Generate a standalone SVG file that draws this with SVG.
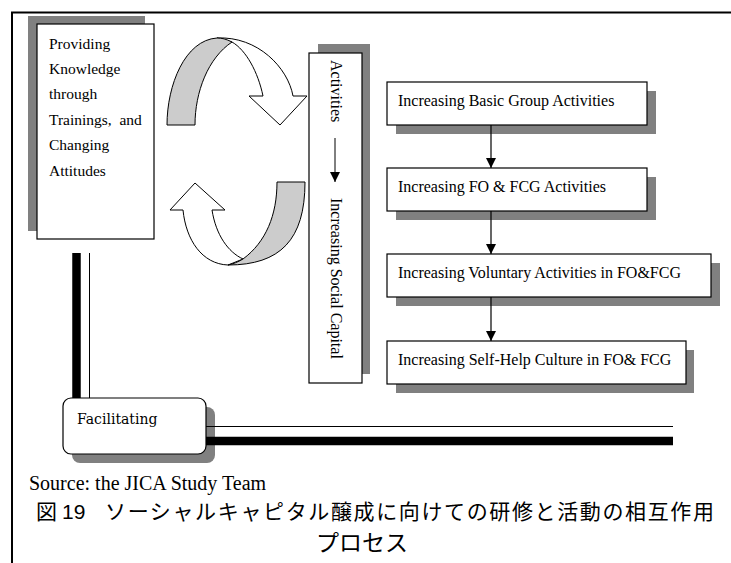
<svg xmlns="http://www.w3.org/2000/svg" width="731" height="563" viewBox="0 0 731 563">
<defs>
<style>
.t{font-family:"Liberation Serif","Times New Roman",serif;font-size:16px;fill:#000}
.lt{font-family:"Liberation Serif","Times New Roman",serif;font-size:15.5px;fill:#000}
.box{fill:#fff;stroke:#000;stroke-width:1.2}
.sh{fill:#808080}
.band{fill:#fff;stroke:#000;stroke-width:1}
.gray{fill:#cccccc;stroke:#000;stroke-width:1}
.cj{font-family:"Noto Sans CJK JP","Noto Sans CJK SC",sans-serif;font-size:21px;font-weight:400;fill:#000}
</style>
<marker id="ah" markerWidth="10" markerHeight="10" viewBox="0 0 10 10" refX="10" refY="5" orient="auto" markerUnits="userSpaceOnUse">
<path d="M0,0 L10,5 L0,10 Z" fill="#000"/>
</marker>
</defs>
<rect width="731" height="563" fill="#fff"/>
<g id="frame">
<line x1="11" y1="12.5" x2="731" y2="12.5" stroke="#000" stroke-width="2"/>
<line x1="12" y1="12" x2="12" y2="563" stroke="#000" stroke-width="2"/>
</g>
<g id="knowledge">
<rect class="sh" x="28" y="16" width="117" height="215"/>
<rect class="box" x="37" y="24" width="117" height="215"/>
<text class="lt" x="49" y="49">Providing</text>
<text class="lt" x="49" y="74">Knowledge</text>
<text class="lt" x="49" y="99">through</text>
<text class="lt" x="49" y="125" xml:space="preserve">Trainings,  and</text>
<text class="lt" x="49" y="150">Changing</text>
<text class="lt" x="49" y="176">Attitudes</text>
</g>
<g id="cycle-top">
<path class="band" d="M217,38 C258,36 288,68 293,96 L307,96 L280,125 L249,96 L263,96 C258,72 246,50 232,42 Z"/>
<path class="gray" d="M167,125 L195,125 C195,92 208,58 232,42 C226,39 222,38 217,38 C185,40 167,85 167,125 Z"/>
</g>
<g id="cycle-bottom">
<path class="band" d="M228,265 C202,264 186,240 183,210 L170,210 L195,183 L225,210 L212,210 C216,235 228,252 243,259 Z"/>
<path class="gray" d="M277,182 L305,182 C305,240 280,265 228,265 C233,264 238,262 243,259 C266,242 277,215 277,182 Z"/>
</g>
<g id="social-capital">
<rect class="sh" x="318" y="44" width="52" height="330"/>
<rect class="box" x="309" y="53" width="53" height="330"/>
<text class="t" transform="translate(330.5,60) rotate(90)">Activities</text>
<line x1="335" y1="138" x2="335" y2="182" stroke="#000" stroke-width="1" marker-end="url(#ah)"/>
<text class="t" transform="translate(330.5,198) rotate(90)">Increasing Social Capital</text>
</g>
<g id="basic">
<rect class="sh" x="396" y="91" width="260" height="43"/>
<rect class="box" x="387" y="82" width="260" height="43"/>
<text class="t" x="398" y="106">Increasing Basic Group Activities</text>
</g>
<g id="fo-fcg">
<rect class="sh" x="396" y="177" width="260" height="43"/>
<rect class="box" x="387" y="168" width="260" height="43"/>
<text class="t" x="398" y="192">Increasing FO &amp; FCG Activities</text>
</g>
<g id="voluntary">
<rect class="sh" x="396" y="263" width="324" height="43"/>
<rect class="box" x="387" y="254" width="324" height="43"/>
<text class="t" x="398" y="278">Increasing Voluntary Activities in FO&amp;FCG</text>
</g>
<g id="self-help">
<rect class="sh" x="396" y="350" width="298" height="43"/>
<rect class="box" x="387" y="341" width="299" height="43"/>
<text class="t" x="398" y="365">Increasing Self-Help Culture in FO&amp; FCG</text>
</g>
<g id="facilitating">
<rect class="sh" x="72" y="407" width="143" height="56" rx="8"/>
<rect class="box" x="63" y="398" width="143" height="56" rx="8"/>
<text x="77" y="424" style="font-family:'DejaVu Serif',serif;font-size:14px">Facilitating</text>
</g>
<g id="connectors">
<line x1="491" y1="125" x2="491" y2="168" stroke="#000" stroke-width="1.2" marker-end="url(#ah)"/>
<line x1="491" y1="211" x2="491" y2="254" stroke="#000" stroke-width="1.2" marker-end="url(#ah)"/>
<line x1="491" y1="297" x2="491" y2="341" stroke="#000" stroke-width="1.2" marker-end="url(#ah)"/>
<line x1="76.5" y1="253" x2="76.5" y2="398" stroke="#000" stroke-width="8.5"/>
<line x1="89.5" y1="253" x2="89.5" y2="398" stroke="#000" stroke-width="1"/>
<line x1="206" y1="426.5" x2="673" y2="426.5" stroke="#000" stroke-width="1"/>
<line x1="206" y1="441" x2="673" y2="441" stroke="#000" stroke-width="8.5"/>
</g>
<g id="caption">
<text x="29" y="490" style="font-family:'Liberation Serif',serif;font-size:20px">Source: the JICA Study Team</text>
<text class="cj" x="36" y="519">図</text>
<text class="cj" x="62" y="519" style="font-family:'Liberation Sans',sans-serif;font-size:21px">19</text>
<text class="cj" x="105" y="519" textLength="609" lengthAdjust="spacing">ソーシャルキャピタル醸成に向けての研修と活動の相互作用</text>
<text class="cj" x="362" y="551" text-anchor="middle" style="font-size:23px">プロセス</text>
</g>
</svg>
